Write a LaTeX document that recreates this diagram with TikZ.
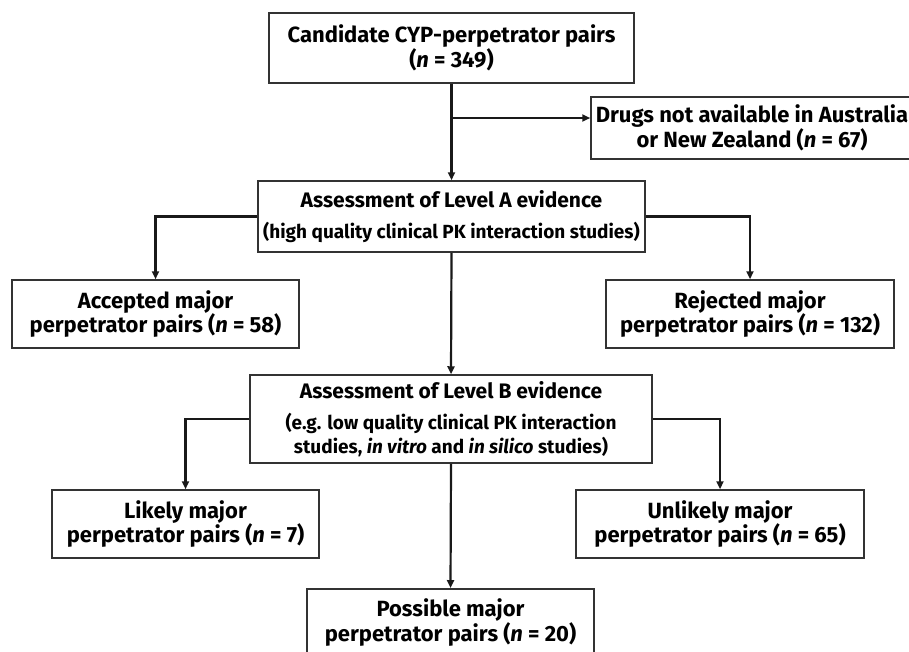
\documentclass[tikz,border=0pt]{standalone}
\usepackage{fontspec}
\setmainfont{Fira Sans}
\usetikzlibrary{arrows.meta}
\newcommand{\subfs}{\fontsize{19}{23}\selectfont}
\begin{document}
\begin{tikzpicture}[x=1pt,y=-1pt,
  box/.style={draw=black!80, line width=1.5pt, fill=white, align=center, inner sep=0pt,
    font=\bfseries\fontsize{22}{23.5}\selectfont},
  lvl/.style={box, font=\bfseries\fontsize{21}{23.5}\selectfont},
  txt/.style={align=center, inner sep=0pt, font=\bfseries\fontsize{22}{23.5}\selectfont},
  conn/.style={line width=2.2pt, draw=black!90, -{Triangle[length=8pt,width=7pt]}}]
\clip (0,0) rectangle (909,651);
\useasboundingbox (0,0) rectangle (909,651);
\fill[white] (0,0) rectangle (909,651);

\node[box, minimum width=365pt, minimum height=70pt] (c1) at (451.5,48)
  {Candidate CYP-perpetrator pairs\\(\textit{n} = 349)};
\node[box, minimum width=340pt, minimum height=62pt] (drugs) at (761,128) {};
\node[txt] (drugsT) at (752,128)
  {Drugs not available in Australia\\or New Zealand (\textit{n} = 67)};
\node[lvl, minimum width=387pt, minimum height=71pt] (la) at (451.5,216.5)
  {Assessment of Level A evidence\\[7pt]{\subfs (high quality clinical PK interaction studies)}};
\node[box, minimum width=287pt, minimum height=68pt] (acc) at (155.5,314)
  {Accepted major\\perpetrator pairs (\textit{n} = 58)};
\node[box, minimum width=288pt, minimum height=68pt] (rej) at (750,314)
  {Rejected major\\perpetrator pairs (\textit{n} = 132)};
\node[lvl, minimum width=402pt, minimum height=88pt] (lb) at (451,419)
  {Assessment of Level B evidence\\[8pt]{\subfs (e.g. low quality clinical PK interaction}\\{\subfs studies, \textit{in vitro} and \textit{in silico} studies)}};
\node[box, minimum width=267pt, minimum height=68pt] (lik) at (185.5,524)
  {Likely major\\perpetrator pairs (\textit{n} = 7)};
\node[box, minimum width=288pt, minimum height=68pt] (unl) at (720,524)
  {Unlikely major\\perpetrator pairs (\textit{n} = 65)};
\node[box, minimum width=287pt, minimum height=72pt, anchor=north] (pos) at (450.5,588)
  {\rule{0pt}{24pt}Possible major\\perpetrator pairs (\textit{n} = 20)\rule[-16pt]{0pt}{16pt}};

\coordinate (j1) at (452,118);
\draw[conn] (c1.south) -- (la.north);
\draw[conn] (j1) -- (j1 -| drugs.west);
\draw[conn] (la.west) -| (acc.north);
\draw[conn] (la.east) -| (rej.north);
\draw[conn] (la.south) -- (lb.north);
\draw[conn] (lb.west) -| (lik.north);
\draw[conn] (lb.east) -| (unl.north);
\draw[conn] (lb.south) -- (pos.north);
\end{tikzpicture}
\end{document}
